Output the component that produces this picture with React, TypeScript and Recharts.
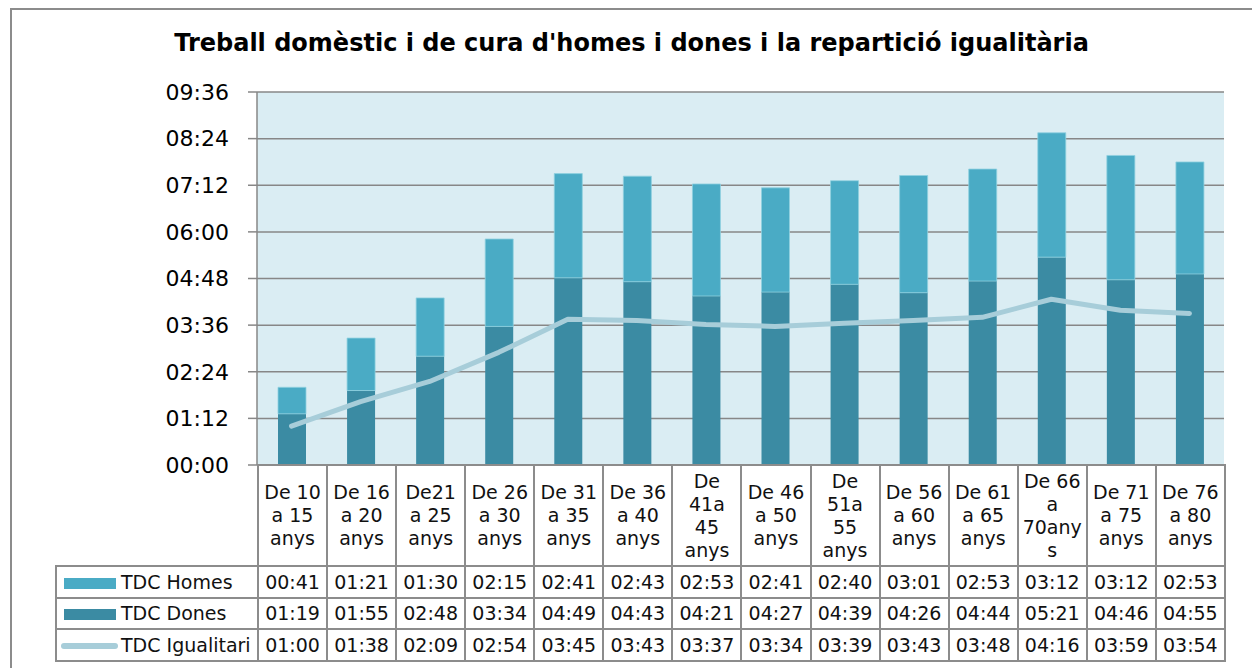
import { Bar, CartesianGrid, ComposedChart, Line, XAxis, YAxis } from 'recharts';

const categories = [
  'De 10\na 15\nanys',
  'De 16\na 20\nanys',
  'De21\na 25\nanys',
  'De 26\na 30\nanys',
  'De 31\na 35\nanys',
  'De 36\na 40\nanys',
  'De\n41a\n45\nanys',
  'De 46\na 50\nanys',
  'De\n51a\n55\nanys',
  'De 56\na 60\nanys',
  'De 61\na 65\nanys',
  'De 66\na\n70any\ns',
  'De 71\na 75\nanys',
  'De 76\na 80\nanys',
];

const homes = ['00:41', '01:21', '01:30', '02:15', '02:41', '02:43', '02:53', '02:41', '02:40', '03:01', '02:53', '03:12', '03:12', '02:53'];
const dones = ['01:19', '01:55', '02:48', '03:34', '04:49', '04:43', '04:21', '04:27', '04:39', '04:26', '04:44', '05:21', '04:46', '04:55'];
const igualitari = ['01:00', '01:38', '02:09', '02:54', '03:45', '03:43', '03:37', '03:34', '03:39', '03:43', '03:48', '04:16', '03:59', '03:54'];

const yTicks = [0, 72, 144, 216, 288, 360, 432, 504, 576];

const COLOR_HOMES = '#4aabc5';
const COLOR_DONES = '#3b8ba3';
const COLOR_IGUAL = '#a7cdd9';
const GRID = '#878787';
const FONT = '"DejaVu Sans", Verdana, sans-serif';

function toMinutes(s: string): number {
  const [h, m] = s.split(':').map(Number);
  return h * 60 + m;
}

function fmt(v: number): string {
  const h = Math.floor(v / 60);
  const m = v % 60;
  return `${String(h).padStart(2, '0')}:${String(m).padStart(2, '0')}`;
}

const data = categories.map((cat, i) => ({
  cat,
  homes: toMinutes(homes[i]),
  dones: toMinutes(dones[i]),
  igual: toMinutes(igualitari[i]),
}));

const cellBorder = `2px solid #8c8c8c`;

const rows = [
  { name: 'TDC Homes', values: homes, key: 'bar', color: COLOR_HOMES },
  { name: 'TDC Dones', values: dones, key: 'bar', color: COLOR_DONES },
  { name: 'TDC Igualitari', values: igualitari, key: 'line', color: COLOR_IGUAL },
];

function Swatch({ kind, color }: { kind: string; color: string }) {
  if (kind === 'line') {
    return (
      <span
        style={{
          display: 'inline-block',
          width: 57,
          height: 6,
          borderRadius: 3,
          background: color,
          verticalAlign: 'middle',
          marginRight: 3,
        }}
      />
    );
  }
  return (
    <span
      style={{
        display: 'inline-block',
        width: 52,
        height: 11,
        background: color,
        verticalAlign: 'middle',
        marginLeft: 3,
        marginRight: 5,
      }}
    />
  );
}

export default function App() {
  const colW = 967 / categories.length;
  const cellStyle = {
    border: cellBorder,
    padding: 0,
    textAlign: 'center' as const,
    fontSize: 19,
    color: '#111',
  };

  return (
    <div
      style={{
        position: 'absolute',
        left: 0,
        top: 0,
        width: 1252,
        height: 668,
        overflow: 'hidden',
        background: '#fff',
        fontFamily: FONT,
      }}
    >
      <div
        style={{
          position: 'absolute',
          left: 10,
          top: 8,
          width: 1300,
          height: 700,
          border: '2px solid #8c8c8c',
          boxSizing: 'border-box',
        }}
      />
      <div
        style={{
          position: 'absolute',
          left: 0,
          top: 29,
          width: 1263,
          textAlign: 'center',
          fontWeight: 'bold',
          fontSize: 24,
          color: '#000',
        }}
      >
        Treball domèstic i de cura d'homes i dones i la repartició igualitària
      </div>
      <div style={{ position: 'absolute', left: 0, top: 0 }}>
        <ComposedChart width={1252} height={485} data={data} margin={{ top: 92, right: 28, bottom: 20, left: 0 }}>
          <CartesianGrid vertical={false} fill="#daedf3" stroke={GRID} strokeWidth={1.5} fillOpacity={1} />
          <XAxis dataKey="cat" hide />
          <YAxis
            width={257}
            domain={[0, 576]}
            ticks={yTicks}
            interval={0}
            tickFormatter={fmt}
            tickSize={9}
            tickMargin={19}
            axisLine={{ stroke: GRID, strokeWidth: 1.5 }}
            tickLine={{ stroke: GRID, strokeWidth: 1.5 }}
            tick={{ fill: '#000', fontSize: 22, fontFamily: FONT }}
          />
          <Bar dataKey="dones" stackId="a" fill={COLOR_DONES} barSize={28} isAnimationActive={false} />
          <Bar
            dataKey="homes"
            stackId="a"
            fill={COLOR_HOMES}
            stroke="#8fd0e0"
            strokeWidth={0.8}
            barSize={28}
            isAnimationActive={false}
          />
          <Line
            type="linear"
            dataKey="igual"
            stroke={COLOR_IGUAL}
            strokeWidth={5}
            strokeLinecap="round"
            strokeLinejoin="round"
            dot={false}
            activeDot={false}
            isAnimationActive={false}
          />
        </ComposedChart>
      </div>
      <table
        style={{
          position: 'absolute',
          left: 55,
          top: 464,
          borderCollapse: 'collapse',
          tableLayout: 'fixed',
          width: 202 + 967,
          fontFamily: FONT,
          background: 'transparent',
        }}
      >
        <colgroup>
          <col style={{ width: 202 }} />
          {categories.map((c) => (
            <col key={c} style={{ width: colW }} />
          ))}
        </colgroup>
        <tbody>
          <tr style={{ height: 101 }}>
            <td style={{ border: 'none', padding: 0 }} />
            {categories.map((c) => (
              <td key={c} style={{ ...cellStyle, lineHeight: '23px', verticalAlign: 'middle', background: '#fff' }}>
                {c.split('\n').map((line, i) => (
                  <div key={i}>{line}</div>
                ))}
              </td>
            ))}
          </tr>
          {rows.map((r) => (
            <tr key={r.name} style={{ height: 31.5 }}>
              <td style={{ ...cellStyle, textAlign: 'left', whiteSpace: 'nowrap', paddingLeft: 4 }}>
                <Swatch kind={r.key} color={r.color} />
                {r.name}
              </td>
              {r.values.map((v, i) => (
                <td key={i} style={cellStyle}>
                  {v}
                </td>
              ))}
            </tr>
          ))}
        </tbody>
      </table>
    </div>
  );
}
